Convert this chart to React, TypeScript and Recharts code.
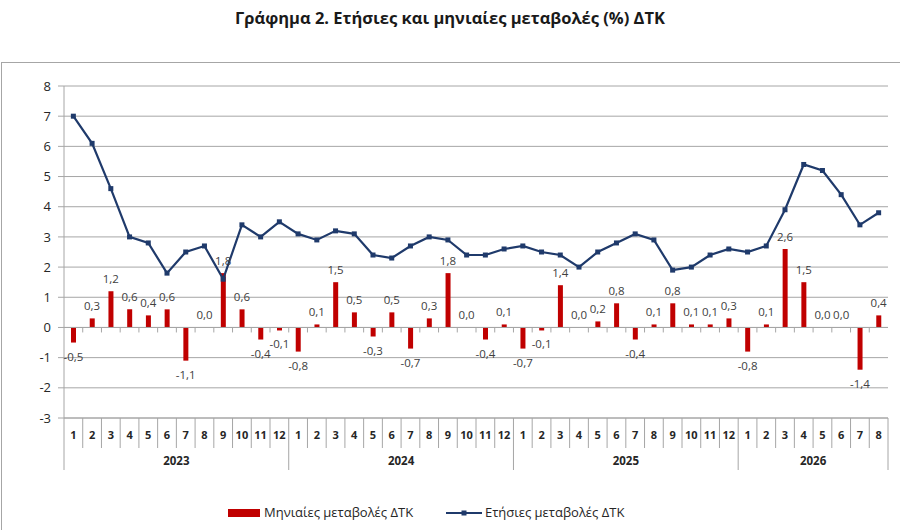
import React from 'react';
import { ComposedChart, Bar, Line, XAxis, YAxis, CartesianGrid, LabelList, ReferenceLine } from 'recharts';

// years shown on the second row of the category axis, and how many months each one has
const yearLabels = ['2023', '2024', '2025', '2026'];
const monthsPerYear = [12, 12, 12, 8];

// monthly % change (bars)
const monthlyChange = [
  -0.5, 0.3, 1.2, 0.6, 0.4, 0.6, -1.1, 0.0, 1.8, 0.6, -0.4, -0.1,
  -0.8, 0.1, 1.5, 0.5, -0.3, 0.5, -0.7, 0.3, 1.8, 0.0, -0.4, 0.1,
  -0.7, -0.1, 1.4, 0.0, 0.2, 0.8, -0.4, 0.1, 0.8, 0.1, 0.1, 0.3,
  -0.8, 0.1, 2.6, 1.5, 0.0, 0.0, -1.4, 0.4,
];

// annual % change (line)
const annualChange = [
  7.0, 6.1, 4.6, 3.0, 2.8, 1.8, 2.5, 2.7, 1.6, 3.4, 3.0, 3.5,
  3.1, 2.9, 3.2, 3.1, 2.4, 2.3, 2.7, 3.0, 2.9, 2.4, 2.4, 2.6,
  2.7, 2.5, 2.4, 2.0, 2.5, 2.8, 3.1, 2.9, 1.9, 2.0, 2.4, 2.6,
  2.5, 2.7, 3.9, 5.4, 5.2, 4.4, 3.4, 3.8,
];

const yTicks = [-3, -2, -1, 0, 1, 2, 3, 4, 5, 6, 7, 8];

// build the table recharts needs
const rows: { key: number; month: number; year: string; yearLen: number; monthly: number; annual: number }[] = [];
yearLabels.forEach((yr, yi) => {
  for (let m = 1; m <= monthsPerYear[yi]; m++) {
    const i = rows.length;
    rows.push({ key: i, month: m, year: yr, yearLen: monthsPerYear[yi], monthly: monthlyChange[i], annual: annualChange[i] });
  }
});

const FONT = '"Open Sans", "Noto Sans", sans-serif';
const GRID = '#a6a6a6';
const RED = '#c00000';
const NAVY = '#1f3a6b';
const TEXT = '#262626';

const W = 900;
const H = 530;
const MARGIN = { top: 86, right: 12, bottom: 60, left: 0 };
const Y_AXIS_W = 64;
const PLOT_W = W - MARGIN.left - MARGIN.right - Y_AXIS_W;
const BAND = PLOT_W / rows.length;

const fmt = (v: number) => v.toFixed(1).replace('.', ',');

function MonthTick(props: any) {
  const { x, y, index } = props;
  const r = rows[index];
  if (!r) return null;
  const left = x - BAND / 2;
  const right = x + BAND / 2;
  const yearStart = r.month === 1;
  return (
    <g>
      <line x1={left} x2={left} y1={y} y2={y + (yearStart ? 52 : 30)} stroke={GRID} />
      {index === rows.length - 1 && <line x1={right} x2={right} y1={y} y2={y + 52} stroke={GRID} />}
      <text x={x} y={y + 21} textAnchor="middle" fontSize={11} fontWeight={700} fill={TEXT} fontFamily={FONT}>
        {r.month}
      </text>
      {r.month === r.yearLen / 2 && (
        <text x={right} y={y + 47} textAnchor="middle" fontSize={11.5} fontWeight={700} fill={TEXT} fontFamily={FONT}>
          {r.year}
        </text>
      )}
    </g>
  );
}

// value label placed from the bar end point (the point y is the bar's top when >= 0, its bottom when < 0)
function BarValue(props: any) {
  const { x, y, value } = props;
  if (value === undefined || value === null || x == null || y == null) return null;
  const ty = value >= 0 ? y - 8 : y + 18;
  return (
    <text x={x} y={ty} textAnchor="middle" fontSize={11.5} fill="#404040" fontFamily={FONT}>
      {fmt(value)}
    </text>
  );
}

function SquareDot(props: any) {
  const { cx, cy, index } = props;
  if (cx == null || cy == null) return null;
  return <rect key={`d${index}`} x={cx - 2.5} y={cy - 2.5} width={5} height={5} fill={NAVY} />;
}

// zero line with Excel style small tick marks at each category boundary
function ZeroLine(props: any) {
  const { x1, y1, x2 } = props;
  if (x1 == null) return null;
  const n = rows.length;
  const step = (x2 - x1) / n;
  const marks = [];
  for (let i = 1; i < n; i++) {
    const xx = x1 + i * step;
    marks.push(<line key={i} x1={xx} x2={xx} y1={y1} y2={y1 + 5} stroke={GRID} />);
  }
  return (
    <g>
      <line x1={x1} x2={x2} y1={y1} y2={y1} stroke={GRID} />
      {marks}
    </g>
  );
}

export default function App() {
  return (
    <div style={{ position: 'absolute', left: 0, top: 0, width: W, height: H, overflow: 'hidden', background: '#fff', fontFamily: FONT }}>
      <div
        style={{
          position: 'absolute', left: 0, top: 6, width: W, textAlign: 'center',
          fontSize: 16.5, fontWeight: 700, color: '#1a1a1a',
        }}
      >
        Γράφημα 2. Ετήσιες και μηνιαίες μεταβολές (%) ΔΤΚ
      </div>
      <div style={{ position: 'absolute', left: 1, top: 62, width: 1000, height: 600, border: '1px solid #a6a6a6' }} />

      <div style={{ position: 'absolute', left: 0, top: 0 }}>
        <ComposedChart width={W} height={H} data={rows} margin={MARGIN}>
          <CartesianGrid vertical={false} stroke={GRID} />
          <XAxis
            dataKey="key"
            type="category"
            interval={0}
            height={52}
            tickSize={0}
            tickMargin={0}
            tickLine={false}
            axisLine={{ stroke: GRID }}
            tick={<MonthTick />}
          />
          <YAxis
            width={Y_AXIS_W}
            domain={[-3, 8]}
            ticks={yTicks}
            interval={0}
            tickSize={6}
            tickMargin={7}
            tickLine={{ stroke: GRID }}
            axisLine={{ stroke: GRID }}
            tick={{ fontSize: 13, fill: TEXT, fontFamily: FONT }}
            allowDecimals={false}
          />
          <ReferenceLine y={0} shape={<ZeroLine />} />
          <Bar dataKey="monthly" fill={RED} barSize={5} isAnimationActive={false} />
          {/* invisible series only used to carry the bar value labels (zero bars included) */}
          <Line
            dataKey="monthly"
            stroke="none"
            dot={false}
            activeDot={false}
            legendType="none"
            isAnimationActive={false}
          >
            <LabelList dataKey="monthly" content={<BarValue />} />
          </Line>
          <Line
            dataKey="annual"
            type="linear"
            stroke={NAVY}
            strokeWidth={2.2}
            dot={<SquareDot />}
            activeDot={false}
            isAnimationActive={false}
          />
        </ComposedChart>
      </div>

      {/* legend */}
      <div style={{ position: 'absolute', left: 228, top: 509, width: 32, height: 8, background: RED }} />
      <div style={{ position: 'absolute', left: 264, top: 503, fontSize: 13, color: TEXT, whiteSpace: 'nowrap' }}>
        Μηνιαίες μεταβολές ΔΤΚ
      </div>
      <svg style={{ position: 'absolute', left: 444, top: 507 }} width={40} height={12}>
        <line x1={2} x2={38} y1={6} y2={6} stroke={NAVY} strokeWidth={2.2} />
        <rect x={17.5} y={3.5} width={5} height={5} fill={NAVY} />
      </svg>
      <div style={{ position: 'absolute', left: 485, top: 503, fontSize: 13, color: TEXT, whiteSpace: 'nowrap' }}>
        Ετήσιες μεταβολές ΔΤΚ
      </div>
    </div>
  );
}
